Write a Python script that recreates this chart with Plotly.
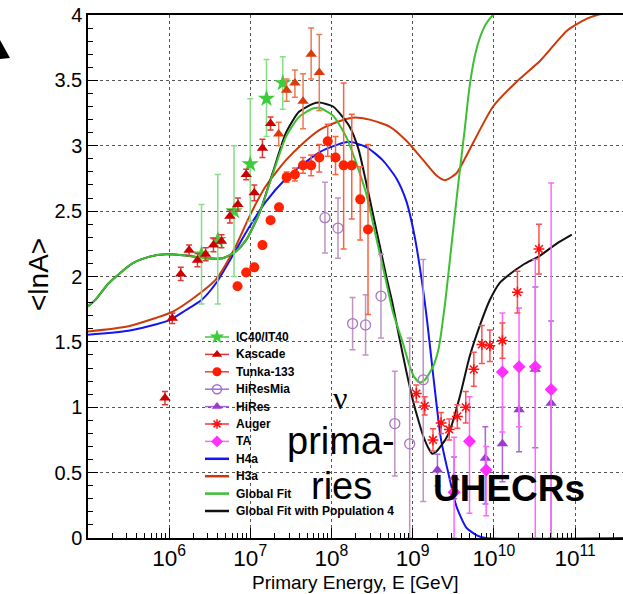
import plotly.graph_objects as go

# ---------------- data (log10 of E/GeV, <lnA>) ----------------
ic40_logE = [6.40, 6.60, 6.80, 7.00, 7.20, 7.40]
ic40_lnA = [2.17, 2.28, 2.50, 2.86, 3.36, 3.48]
ic40_up = [0.38, 0.50, 0.50, 0.50, 0.30, 0.20]
ic40_dn = [0.38, 0.49, 0.50, 0.44, 0.29, 0.20]

kascade_logE = [5.95, 6.04, 6.144, 6.247, 6.35, 6.45, 6.547, 6.646, 6.749, 6.848, 6.95, 7.05, 7.15, 7.25]
kascade_lnA = [1.07, 1.68, 2.02, 2.20, 2.125, 2.17, 2.24, 2.27, 2.46, 2.55, 2.78, 2.64, 2.98, 3.17]
kascade_err = [0.05, 0.04, 0.05, 0.04, 0.05, 0.05, 0.05, 0.05, 0.05, 0.05, 0.04, 0.06, 0.07, 0.05]

kgrande_logE = [7.35, 7.448, 7.55, 7.65, 7.75, 7.85]
kgrande_lnA = [3.09, 3.425, 3.48, 3.34, 3.70, 3.56]
kgrande_up = [0.09, 0.085, 0.10, 0.21, 0.20, 0.29]
kgrande_dn = [0.09, 0.085, 0.11, 0.21, 0.19, 0.29]

tunka_logE = [6.843, 6.95, 7.05, 7.15, 7.25, 7.354, 7.448, 7.55, 7.65, 7.75, 7.85, 7.954, 8.05, 8.15, 8.25, 8.354, 8.45]
tunka_lnA = [1.926, 2.03, 2.07, 2.24, 2.43, 2.53, 2.76, 2.78, 2.85, 2.85, 2.91, 3.035, 2.91, 2.85, 2.85, 2.59, 2.36]
tunka_up = [0.02, 0.02, 0.02, 0.02, 0.02, 0.02, 0.04, 0.05, 0.06, 0.08, 0.10, 0.13, 0.16, 0.63, 0.39, 0.25, 0.65]
tunka_dn = [0.02, 0.02, 0.02, 0.02, 0.02, 0.02, 0.04, 0.05, 0.06, 0.08, 0.11, 0.115, 0.13, 0.64, 0.41, 0.31, 0.65]

hiresmia_logE = [7.92, 8.08, 8.26, 8.42, 8.61, 8.78, 8.963, 9.13]
hiresmia_lnA = [2.45, 2.37, 1.64, 1.63, 1.85, 0.875, 0.72, 1.21]
hiresmia_up = [0.27, 0.23, 0.20, 0.23, 0.32, 0.40, 0.81, 0.92]
hiresmia_dn = [0.27, 0.23, 0.20, 0.23, 0.32, 0.40, 0.72, 0.93]

hires_logE = [9.305, 9.51, 9.895, 10.105, 10.31, 10.51, 10.705]
hires_lnA = [0.52, 0.46, 0.61, 0.72, 0.98, 1.29, 1.03]
hires_up = [0.12, 0.16, 0.24, 0.28, 0.33, 0.63, 0.63]
hires_dn = [0.12, 0.16, 0.35, 0.29, 0.32, 0.60, 1.03]

auger_logE = [9.045, 9.148, 9.25, 9.35, 9.45, 9.55, 9.654, 9.753, 9.852, 9.951, 10.105, 10.29, 10.555]
auger_lnA = [1.105, 1.01, 0.75, 0.88, 0.83, 0.93, 1.00, 1.29, 1.48, 1.47, 1.51, 1.88, 2.21]
auger_err = [0.065, 0.07, 0.085, 0.08, 0.08, 0.09, 0.12, 0.13, 0.145, 0.12, 0.135, 0.16, 0.19]

ta_logE = [9.51, 9.70, 9.905, 10.105, 10.31, 10.51, 10.705]
ta_lnA = [0.35, 0.74, 0.52, 1.27, 1.31, 1.31, 1.135]
ta_up = [0.42, 0.34, 0.18, 0.45, 0.45, 0.82, 1.58]
ta_dn = [0.35, 0.55, 0.35, 0.46, 0.46, 1.31, 1.135]

# model curves
h4a_logE = [5.0, 5.5, 6.0, 6.2, 6.4, 6.58, 6.82, 6.99, 7.19, 7.44, 7.65, 7.85, 8.06, 8.22, 8.43,
            8.63, 8.80, 8.92, 9.02, 9.11, 9.18, 9.25, 9.35, 9.46, 9.54, 9.66, 9.79, 9.9, 11.6]
h4a_lnA = [1.555, 1.585, 1.665, 1.74, 1.82, 1.95, 2.20, 2.38, 2.57, 2.75, 2.86, 2.95, 3.005, 3.03, 2.99,
           2.89, 2.75, 2.58, 2.32, 1.98, 1.65, 1.26, 0.75, 0.44, 0.24, 0.08, 0.02, 0.0, 0.0]

h3a_logE = [5.0, 5.5, 6.04, 6.29, 6.58, 6.82, 6.99, 7.19, 7.44, 7.65, 7.85, 8.06, 8.26, 8.47, 8.72,
            8.92, 9.13, 9.29, 9.40, 9.54, 9.70, 9.99, 10.28, 10.57, 10.90, 11.14, 11.27, 11.6]
h3a_lnA = [1.58, 1.62, 1.73, 1.83, 1.98, 2.23, 2.46, 2.69, 2.89, 3.02, 3.12, 3.18, 3.215, 3.20, 3.145,
           3.04, 2.89, 2.775, 2.737, 2.79, 2.97, 3.30, 3.49, 3.65, 3.88, 3.97, 4.0, 4.04]

gfit_logE = [5.0, 5.09, 5.26, 5.55, 5.75, 5.96, 6.21, 6.45, 6.66, 6.82, 6.95, 7.11, 7.28, 7.44, 7.60,
             7.77, 7.85, 8.02, 8.18, 8.31, 8.43, 8.55, 8.66, 8.76, 8.88, 8.96, 9.02, 9.086, 9.15,
             9.25, 9.32, 9.40, 9.48, 9.56, 9.64, 9.70, 9.77, 9.83, 9.90, 9.99, 10.05]
gfit_lnA = [1.77, 1.82, 1.95, 2.10, 2.15, 2.17, 2.16, 2.14, 2.14, 2.19, 2.28, 2.48, 2.79, 3.07, 3.22,
            3.285, 3.29, 3.23, 3.07, 2.86, 2.63, 2.30, 2.00, 1.72, 1.49, 1.32, 1.23, 1.19, 1.21,
            1.31, 1.45, 1.80, 2.25, 2.70, 3.12, 3.45, 3.70, 3.83, 3.93, 4.0, 4.03]

gpop4_logE = [5.0, 5.09, 5.26, 5.55, 5.75, 5.96, 6.21, 6.45, 6.66, 6.82, 6.95, 7.11, 7.28, 7.44, 7.60,
              7.77, 7.85, 8.02, 8.22, 8.33, 8.42, 8.51, 8.60, 8.675, 8.75, 8.83, 8.92, 9.00, 9.07,
              9.13, 9.20, 9.24, 9.29, 9.33, 9.40, 9.457, 9.58, 9.70, 9.83, 9.95, 10.07, 10.16,
              10.36, 10.57, 10.77, 10.96]
gpop4_lnA = [1.77, 1.82, 1.95, 2.10, 2.15, 2.17, 2.16, 2.14, 2.14, 2.19, 2.28, 2.48, 2.80, 3.10, 3.26,
             3.32, 3.33, 3.30, 3.15, 2.98, 2.74, 2.48, 2.22, 2.00, 1.80, 1.55, 1.28, 1.06, 0.90,
             0.78, 0.68, 0.645, 0.66, 0.69, 0.75, 0.82, 1.08, 1.385, 1.63, 1.82, 1.95, 2.00,
             2.09, 2.16, 2.25, 2.32]

legend_labels = ["IC40/IT40", "Kascade", "Tunka-133", "HiResMia", "HiRes", "Auger", "TA",
                 "H4a", "H3a", "Global Fit", "Global Fit with Population 4"]

band_logE = [7.337, 8.70]  # shaded neutrino-primaries band


def E(v):
    return [10 ** a for a in v]


FONT = "Liberation Sans, Arial, Helvetica, sans-serif"

fig = go.Figure()


def data_trace(logE, lnA, up, dn, symbol, color, ecolor, size, lw=0, lcolor=None):
    marker = dict(symbol=symbol, color=color, size=size)
    if lw:
        marker["line"] = dict(width=lw, color=lcolor or color)
    else:
        marker["line"] = dict(width=0)
    fig.add_trace(go.Scatter(
        x=E(logE), y=lnA, mode="markers", showlegend=False, marker=marker,
        error_y=dict(type="data", symmetric=False, array=up, arrayminus=dn,
                     color=ecolor, thickness=1.5, width=3),
        cliponaxis=True,
    ))


# curves (black drawn under green)
fig.add_trace(go.Scatter(x=E(h4a_logE), y=h4a_lnA, mode="lines", showlegend=False,
                         line=dict(color="#1414f0", width=2, shape="spline", smoothing=0.6)))
fig.add_trace(go.Scatter(x=E(h3a_logE), y=h3a_lnA, mode="lines", showlegend=False,
                         line=dict(color="#cc3a0a", width=2, shape="spline", smoothing=0.6)))
fig.add_trace(go.Scatter(x=E(gpop4_logE), y=gpop4_lnA, mode="lines", showlegend=False,
                         line=dict(color="#111111", width=2, shape="spline", smoothing=0.6)))
fig.add_trace(go.Scatter(x=E(gfit_logE), y=gfit_lnA, mode="lines", showlegend=False,
                         line=dict(color="#3cbf32", width=2, shape="spline", smoothing=0.6)))

# data sets
data_trace(hiresmia_logE, hiresmia_lnA, hiresmia_up, hiresmia_dn, "circle-open", "#a878c0", "#c095c0", 10, 1.3)
data_trace(hires_logE, hires_lnA, hires_up, hires_dn, "triangle-up", "#9a3ccc", "#a866d8", 10)
data_trace(ta_logE, ta_lnA, ta_up, ta_dn, "diamond", "#ff30ff", "#ff66ff", 10)
data_trace(auger_logE, auger_lnA, auger_err, auger_err, "asterisk-open", "#ff1010", "#ff5050", 9, 1.5)
data_trace(ic40_logE, ic40_lnA, ic40_up, ic40_dn, "star", "#3ccc3c", "#88dd88", 13)
data_trace(kascade_logE, kascade_lnA, kascade_err, kascade_err, "triangle-up", "#cc0000", "#dd3a3a", 10)
data_trace(kgrande_logE, kgrande_lnA, kgrande_up, kgrande_dn, "triangle-up", "#dd3a0a", "#ee7a50", 10)
data_trace(tunka_logE, tunka_lnA, tunka_up, tunka_dn, "circle", "#ff2200", "#ff6040", 10)

# ---------------- hand-drawn legend on an overlay axis ----------------
leg_style = [
    ("star", "#3ccc3c", "#3ccc3c", 11, 1.5),
    ("triangle-up", "#cc0000", "#dd3333", 9, 1.5),
    ("circle", "#ff1a00", "#ff3a2a", 9, 1.5),
    ("circle-open", "#a070d0", "#a070d0", 9, 1.5),
    ("triangle-up", "#9a3ccc", "#a866d8", 9, 1.5),
    ("asterisk-open", "#ff1010", "#ff3030", 8, 1.5),
    ("diamond", "#ff30ff", "#ff66ff", 9, 1.5),
    (None, None, "#1414f0", 0, 2.5),
    (None, None, "#cc3a0a", 0, 2.5),
    (None, None, "#3cbf32", 0, 2.5),
    (None, None, "#111111", 0, 2.5),
]
PLOT_L, PLOT_R, PLOT_T, PLOT_B = 88, 623, 15, 538
W = PLOT_R - PLOT_L
H = PLOT_B - PLOT_T


def px2paper(px, py):
    return (px - PLOT_L) / W, (PLOT_B - py) / H


row0, row_dy = 337.0, 17.4
for i, (lab, st) in enumerate(zip(legend_labels, leg_style)):
    sym, mcol, lcol, msz, lw = st
    py = row0 + i * row_dy
    xa, ya = px2paper(205, py)
    xb, _ = px2paper(229, py)
    xm, _ = px2paper(217, py)
    fig.add_trace(go.Scatter(x=[xa, xb], y=[ya, ya], mode="lines", xaxis="x2", yaxis="y2",
                             showlegend=False, hoverinfo="skip",
                             line=dict(color=lcol, width=lw)))
    if sym:
        mk = dict(symbol=sym, color=mcol, size=msz)
        if "open" in sym:
            mk["line"] = dict(color=mcol, width=1.5)
        fig.add_trace(go.Scatter(x=[xm], y=[ya], mode="markers", xaxis="x2", yaxis="y2",
                                 showlegend=False, hoverinfo="skip", marker=mk))
    xt, _ = px2paper(234, py)
    fig.add_annotation(x=xt, y=ya, xref="paper", yref="paper", text=lab, showarrow=False,
                       xanchor="left", yanchor="middle",
                       font=dict(family=FONT, size=12, color="black", weight="bold"))

# ---------------- layout ----------------
fig.add_shape(type="rect", xref="x", yref="paper", x0=band_logE[0], x1=band_logE[1], y0=0, y1=1,
              fillcolor="#fffccb", line=dict(width=0), layer="below")

tx, ty = [0, 10, 0], [40, 58, 59]
pts = [px2paper(a, b) for a, b in zip(tx, ty)]
path = "M {} {} L {} {} L {} {} Z".format(pts[0][0], pts[0][1], pts[1][0], pts[1][1], pts[2][0], pts[2][1])
fig.add_shape(type="path", xref="paper", yref="paper", path=path, fillcolor="black",
              line=dict(color="black", width=0))

fig.add_annotation(x=8.10, y=1.07, xref="x", yref="y", text="ν", showarrow=False,
                   font=dict(family="Liberation Serif, Times New Roman, serif", size=32, color="black"))
fig.add_annotation(x=8.117, y=0.743, xref="x", yref="y", text="prima-", showarrow=False,
                   font=dict(family=FONT, size=38, color="black"))
fig.add_annotation(x=8.12, y=0.399, xref="x", yref="y", text="ries", showarrow=False,
                   font=dict(family=FONT, size=38, color="black"))
fig.add_annotation(x=10.18, y=0.375, xref="x", yref="y", text="UHECRs", showarrow=False,
                   font=dict(family=FONT, size=37, color="black", weight="bold"))

fig.add_annotation(x=px2paper(38, 0)[0], y=px2paper(0, 275)[1], xref="paper", yref="paper",
                   xanchor="center", yanchor="middle",
                   text="<lnA>", showarrow=False, textangle=-90,
                   font=dict(family=FONT, size=28, color="black"))
fig.add_annotation(x=px2paper(355, 0)[0], y=px2paper(0, 582)[1], xref="paper", yref="paper",
                   xanchor="center", yanchor="middle",
                   text="Primary Energy, E [GeV]", showarrow=False,
                   font=dict(family=FONT, size=19, color="black"))

fig.update_layout(
    width=623, height=594,
    margin=dict(l=PLOT_L, r=623 - PLOT_R, t=PLOT_T, b=594 - PLOT_B, pad=0),
    paper_bgcolor="white", plot_bgcolor="white",
    showlegend=False,
    font=dict(family=FONT, color="black"),
    xaxis=dict(type="log", range=[5.002, 11.59], showline=True, linecolor="black", linewidth=1.5,
               mirror=True, ticks="inside", ticklen=10, tickwidth=1, tickcolor="black",
               dtick=1, exponentformat="power", showgrid=True, gridcolor="#555555",
               gridwidth=1, griddash="dot", zeroline=False,
               tickfont=dict(family=FONT, size=18, color="black"),
               minor=dict(ticks="inside", ticklen=5, dtick="D1", tickcolor="black", showgrid=False)),
    yaxis=dict(range=[0, 4], showline=True, linecolor="black", linewidth=1.5, mirror=False,
               ticks="inside", ticklen=10, tickwidth=1, tickcolor="black", dtick=0.5,
               showgrid=True, gridcolor="#555555", gridwidth=1, griddash="dot", zeroline=False,
               tickfont=dict(family=FONT, size=20, color="black"),
               minor=dict(ticks="inside", ticklen=5, dtick=0.1, tickcolor="black", showgrid=False)),
    xaxis2=dict(overlaying="x", range=[0, 1], visible=False, fixedrange=True),
    yaxis2=dict(overlaying="y", range=[0, 1], visible=False, fixedrange=True),
)

fig.write_html("out.html")
